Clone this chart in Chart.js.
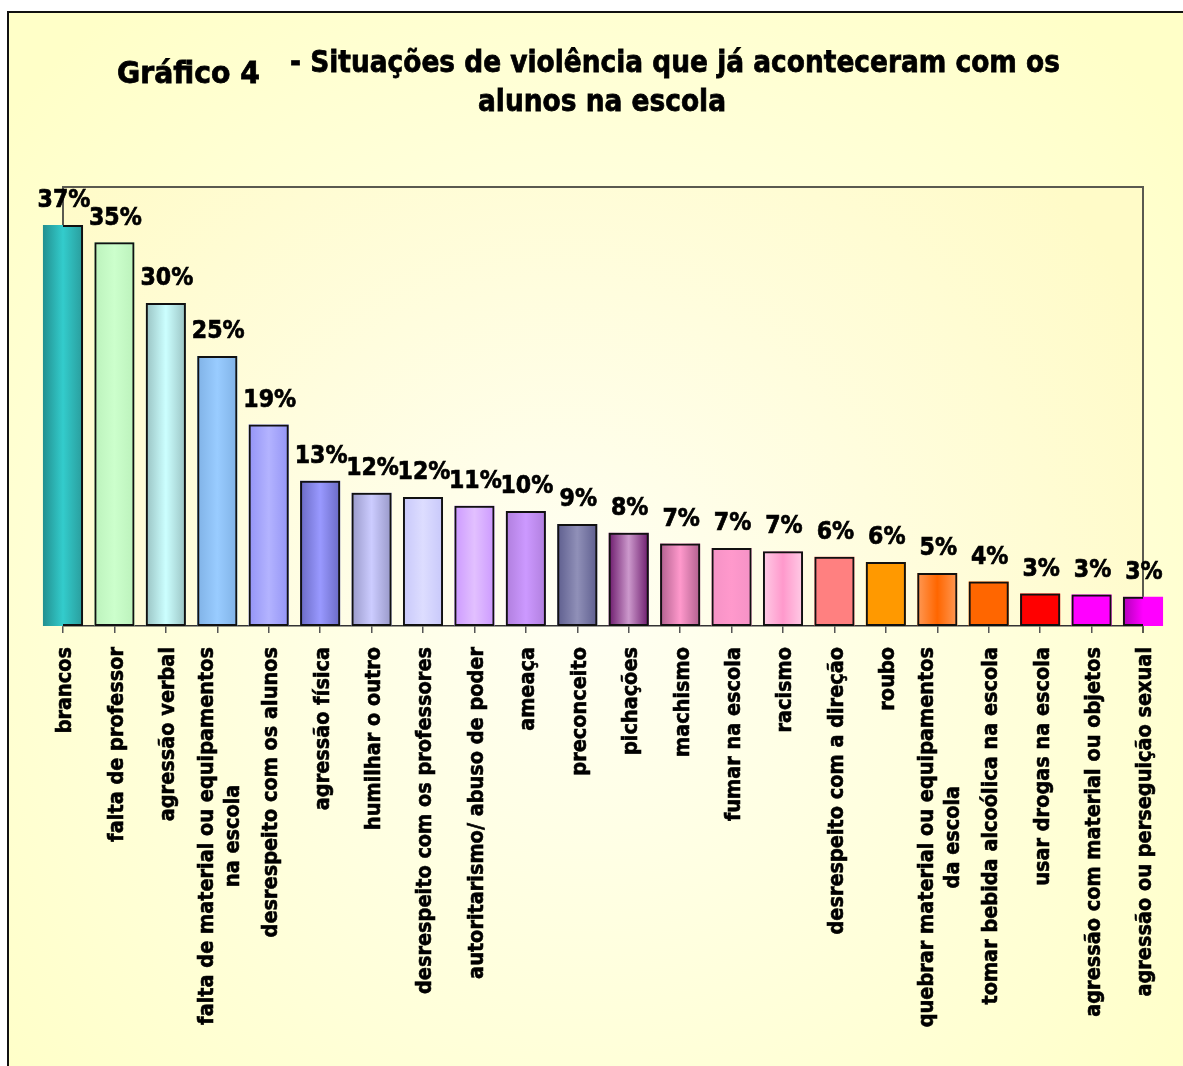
<!DOCTYPE html>
<html lang="pt">
<head>
<meta charset="utf-8">
<title>Gráfico 4</title>
<script src="https://cdn.jsdelivr.net/npm/chart.js@4.4.1/dist/chart.umd.min.js"></script>
<style>
  html, body { margin: 0; padding: 0; background: #fff; }
  canvas { display: block; }
</style>
</head>
<body>
<canvas id="grafico" width="1183" height="1066"></canvas>
<script>
const categorias = [
    ['brancos'],
    ['falta de professor'],
    ['agressão verbal'],
    ['falta de material ou equipamentos', 'na escola'],
    ['desrespeito com os alunos'],
    ['agressão física'],
    ['humilhar o outro'],
    ['desrespeito com os professores'],
    ['autoritarismo/ abuso de poder'],
    ['ameaça'],
    ['preconceito'],
    ['pichações'],
    ['machismo'],
    ['fumar na escola'],
    ['racismo'],
    ['desrespeito com a direção'],
    ['roubo'],
    ['quebrar material ou equipamentos', 'da escola'],
    ['tomar bebida alcoólica na escola'],
    ['usar drogas na escola'],
    ['agressão com material ou objetos'],
    ['agressão ou perseguição sexual']
];

// altura das barras (%)
const valores = [37.0, 35.4, 29.8, 24.9, 18.6, 13.4, 12.3, 11.9, 11.1, 10.6, 9.4,
                 8.6, 7.6, 7.2, 6.9, 6.4, 5.9, 4.9, 4.1, 3.0, 2.9, 2.7];

// rótulos impressos em cima das barras
const rotulos = [37, 35, 30, 25, 19, 13, 12, 12, 11, 10, 9, 8, 7, 7, 7, 6, 6, 5, 4, 3, 3, 3];

const titulo = ['Gráfico 4', '- Situações de violência que já aconteceram com os', 'alunos na escola'];

// cores das barras: borda esquerda, meio, borda direita
const cores = [
    ['#239090', '#33CCCC', '#2A9C9C'],
    ['#BCF2BC', '#CCFFCC', '#BCF2BC'],
    ['#99C2C2', '#CCFFFF', '#99C2C2'],
    ['#80B2E6', '#99CCFF', '#80B2E6'],
    ['#9494F5', '#B3B3FF', '#9494F5'],
    ['#6A6AC4', '#9999FF', '#6A6AC4'],
    ['#9898C8', '#CCCCFF', '#9898C8'],
    ['#C8C8FA', '#DDDDFF', '#C8C8FA'],
    ['#CC99FF', '#E2C0FF', '#CC99FF'],
    ['#B07EDD', '#CC99FF', '#B07EDD'],
    ['#5E5E8E', '#9090B8', '#5E5E8E'],
    ['#6C1A6C', '#CC99CC', '#6C1A6C'],
    ['#B0608E', '#FF99CC', '#B0608E'],
    ['#F592C6', '#FF99CC', '#F592C6'],
    ['#FFCCE6', '#FF99CC', '#FFCCE6'],
    ['#FF8080', '#FF8080', '#FF8080'],
    ['#FF9900', '#FF9900', '#FF9900'],
    ['#FF9955', '#FF6600', '#FF9955'],
    ['#FF6600', '#FF6600', '#FF6600'],
    ['#FF0000', '#FF0000', '#FF0000'],
    ['#FF00FF', '#FF00FF', '#FF00FF'],
    ['#B000B8', '#FF00FF', '#FF00FF']
];

const FONTE = '"DejaVu Sans", "Liberation Sans", sans-serif';

function preenchimento(c) {
    const chart = c.chart;
    const i = c.dataIndex;
    const cor = cores[i] || cores[0];
    if (!chart.chartArea || c.type !== 'data') return cor[1];
    const xs = chart.scales.x;
    const x = xs.getPixelForValue(i);
    const meia = (xs.getPixelForValue(1) - xs.getPixelForValue(0)) * 0.78 / 2;
    const g = chart.ctx.createLinearGradient(x - meia, 0, x + meia, 0);
    g.addColorStop(0, cor[0]);
    g.addColorStop(0.5, cor[1]);
    g.addColorStop(1, cor[2]);
    return g;
}

// texto em negrito mais carregado (fill + contorno fino)
function escreve(ctx, t, x, y, maxW) {
    ctx.fillText(t, x, y, maxW);
    ctx.strokeText(t, x, y, maxW);
}

// fundo amarelo, moldura e títulos
const fundo = {
    id: 'fundo',
    beforeDraw(chart) {
        const {ctx, chartArea: a, width, height} = chart;
        ctx.save();
        ctx.fillStyle = '#fff';
        ctx.fillRect(0, 0, width, height);

        const g = ctx.createRadialGradient(590, 600, 0, 590, 600, 760);
        g.addColorStop(0, '#FFFFF3');
        g.addColorStop(1, '#FFFFC8');
        ctx.fillStyle = g;
        ctx.fillRect(8, 12, width, height);
        ctx.strokeStyle = '#111';
        ctx.lineWidth = 2;
        ctx.strokeRect(8, 12, width + 20, height + 20);

        const g2 = ctx.createRadialGradient(560, 620, 0, 560, 620, 660);
        g2.addColorStop(0, '#FFFFF4');
        g2.addColorStop(1, '#FFFBC8');
        ctx.fillStyle = g2;
        ctx.fillRect(a.left, a.top, a.right - a.left, a.bottom - a.top);

        ctx.fillStyle = '#000';
        ctx.strokeStyle = '#000';
        ctx.lineWidth = 0.8;
        ctx.textAlign = 'left';
        ctx.textBaseline = 'alphabetic';
        ctx.font = 'bold 31px ' + FONTE;
        escreve(ctx, titulo[0], 117, 83, 143);
        escreve(ctx, titulo[1], 290, 72, 770);
        escreve(ctx, titulo[2], 478, 111, 248);
        ctx.restore();
    },
    // contorno da área do gráfico, por baixo das barras
    beforeDatasetsDraw(chart) {
        const {ctx, chartArea: a} = chart;
        ctx.save();
        ctx.strokeStyle = '#5A5A50';
        ctx.lineWidth = 2;
        ctx.beginPath();
        ctx.moveTo(a.left, a.bottom);
        ctx.lineTo(a.left, a.top);
        ctx.lineTo(a.right, a.top);
        ctx.lineTo(a.right, a.bottom + 7);
        ctx.stroke();
        ctx.restore();
    }
};

// rótulos de valor e nomes das categorias
const textos = {
    id: 'textos',
    afterDatasetsDraw(chart) {
        const ctx = chart.ctx;
        const xs = chart.scales.x;
        ctx.save();
        ctx.fillStyle = '#000';
        ctx.strokeStyle = '#000';
        ctx.lineWidth = 0.7;
        ctx.textAlign = 'center';
        ctx.textBaseline = 'middle';

        ctx.font = 'bold 24px ' + FONTE;
        chart.getDatasetMeta(0).data.forEach((barra, i) => {
            const t = rotulos[i] + '%';
            escreve(ctx, t, barra.x + 1, barra.y - 24, ctx.measureText(t).width * 0.92);
        });

        ctx.font = 'bold 21px ' + FONTE;
        ctx.lineWidth = 0.6;
        categorias.forEach((linhas, i) => {
            const x = xs.getPixelForValue(i) + 3;
            const larg = Math.max(...linhas.map(t => ctx.measureText(t).width)) * 0.92;
            ctx.save();
            ctx.translate(x, xs.top + 21);
            ctx.rotate(-Math.PI / 2);
            linhas.forEach((t, k) => {
                const w = ctx.measureText(t).width * 0.92;
                escreve(ctx, t, -larg / 2, (k - (linhas.length - 1) / 2) * 26, w);
            });
            ctx.restore();
        });
        ctx.restore();
    }
};

new Chart(document.getElementById('grafico'), {
    type: 'bar',
    data: {
        labels: categorias,
        datasets: [
            {
                data: valores,
                backgroundColor: preenchimento,
                borderWidth: 0,
                grouped: false,
                barPercentage: 0.78,
                categoryPercentage: 1,
                clip: false,
                order: 2
            },
            {
                data: valores,
                backgroundColor: 'rgba(0,0,0,0)',
                borderColor: '#111',
                borderWidth: 2,
                borderSkipped: false,
                grouped: false,
                barPercentage: 0.78,
                categoryPercentage: 1,
                clip: {left: 0, right: 0, top: false, bottom: false},
                order: 1
            }
        ]
    },
    options: {
        responsive: false,
        animation: false,
        events: [],
        devicePixelRatio: 1,
        layout: {padding: {left: 63, right: 40, top: 187, bottom: 440}},
        plugins: {
            legend: {display: false},
            title: {display: false},
            tooltip: {enabled: false}
        },
        scales: {
            x: {
                type: 'category',
                offset: false,
                grid: {offset: false, drawOnChartArea: false, drawTicks: true, tickLength: 7, color: '#555', lineWidth: 1.5},
                border: {display: true, color: '#333', width: 1.5},
                ticks: {display: false},
                afterFit(s) { s.height = 0; }
            },
            y: {
                display: false,
                min: 0,
                max: 40.5
            }
        }
    },
    plugins: [fundo, textos]
});
</script>
</body>
</html>
